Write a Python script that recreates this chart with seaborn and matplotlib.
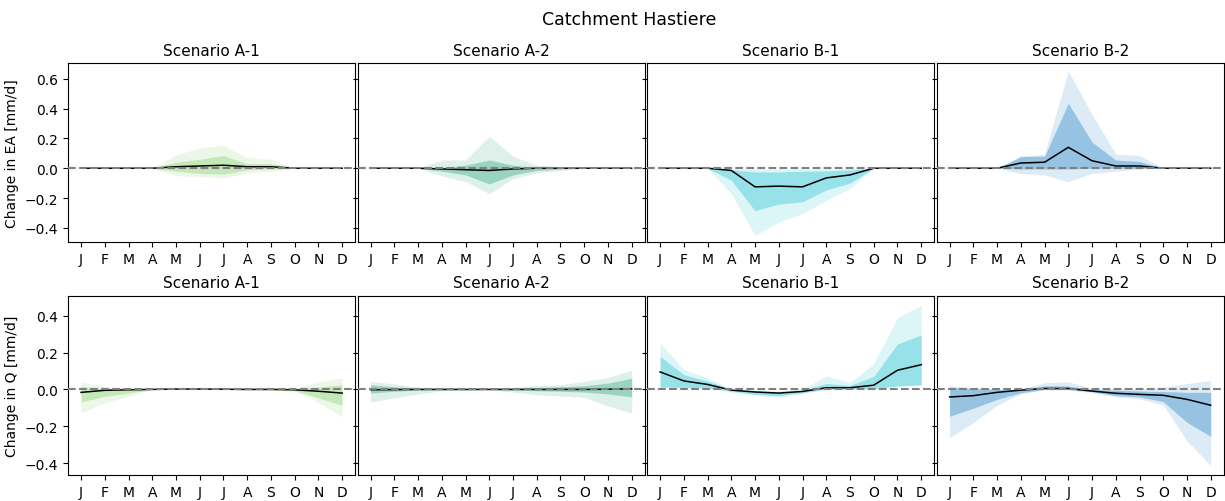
import numpy as np
import pandas as pd
import matplotlib
matplotlib.use("Agg")
import matplotlib.pyplot as plt
import seaborn as sns

months = ["J", "F", "M", "A", "M", "J", "J", "A", "S", "O", "N", "D"]
scenarios = ["Scenario A-1", "Scenario A-2", "Scenario B-1", "Scenario B-2"]
colors = ["#7ccc5f", "#1b9e77", "#17becf", "#1479bd"]

# ---- Change in EA [mm/d] ----
ea_a1_med = [0, 0, 0, 0, 0.01, 0.015, 0.02, 0.01, 0.01, 0, 0, 0]
ea_a1_in_lo = [0, 0, 0, 0, -0.02, -0.035, -0.04, -0.01, -0.005, 0, 0, 0]
ea_a1_in_hi = [0, 0, 0, 0, 0.04, 0.06, 0.085, 0.03, 0.03, 0, 0, 0]
ea_a1_out_lo = [0, 0, 0, 0, -0.05, -0.055, -0.065, -0.03, -0.02, 0, 0, 0]
ea_a1_out_hi = [0, 0, 0, 0, 0.09, 0.135, 0.155, 0.07, 0.06, 0, 0, 0]

ea_a2_med = [0, 0, 0, -0.005, -0.01, -0.015, -0.005, 0, 0, 0, 0, 0]
ea_a2_in_lo = [0, 0, 0, -0.02, -0.045, -0.105, -0.045, -0.015, -0.005, 0, 0, 0]
ea_a2_in_hi = [0, 0, 0, 0.005, 0.02, 0.055, 0.02, 0.005, 0, 0, 0, 0]
ea_a2_out_lo = [0, 0, 0, -0.05, -0.09, -0.17, -0.07, -0.03, -0.015, 0, 0, 0]
ea_a2_out_hi = [0, 0, 0, 0.055, 0.055, 0.215, 0.08, 0.02, 0.01, 0, 0, 0]

ea_b1_med = [0, 0, 0, -0.015, -0.125, -0.12, -0.125, -0.065, -0.045, 0, 0, 0]
ea_b1_in_lo = [0, 0, 0, -0.08, -0.285, -0.24, -0.225, -0.145, -0.1, 0, 0, 0]
ea_b1_in_hi = [0, 0, 0, -0.01, -0.025, -0.025, -0.02, -0.018, -0.012, 0, 0, 0]
ea_b1_out_lo = [0, 0, 0, -0.17, -0.45, -0.36, -0.305, -0.215, -0.135, 0, 0, 0]
ea_b1_out_hi = [0, 0, 0, -0.002, -0.005, -0.005, -0.005, -0.004, -0.003, 0, 0, 0]

ea_b2_med = [0, 0, 0, 0.035, 0.04, 0.14, 0.05, 0.015, 0.015, 0, 0, 0]
ea_b2_in_lo = [0, 0, 0, -0.005, -0.005, -0.005, 0, 0, 0, 0, 0, 0]
ea_b2_in_hi = [0, 0, 0, 0.08, 0.08, 0.435, 0.175, 0.055, 0.045, 0, 0, 0]
ea_b2_out_lo = [0, 0, 0, -0.035, -0.045, -0.09, -0.035, -0.02, -0.005, 0, 0, 0]
ea_b2_out_hi = [0, 0, 0, 0.075, 0.095, 0.65, 0.36, 0.095, 0.085, 0, 0, 0]

# ---- Change in Q [mm/d] ----
q_a1_med = [-0.016, -0.005, -0.002, 0, 0.002, 0.002, 0.001, 0, 0, -0.002, -0.01, -0.02]
q_a1_in_lo = [-0.068, -0.037, -0.02, 0, 0, 0, 0, -0.002, -0.002, -0.007, -0.046, -0.086]
q_a1_in_hi = [0.016, 0.004, 0.002, 0, 0.004, 0.004, 0.003, 0.002, 0.002, 0.002, 0.012, 0.025]
q_a1_out_lo = [-0.127, -0.073, -0.037, 0, -0.001, -0.001, -0.001, -0.003, -0.003, -0.01, -0.07, -0.15]
q_a1_out_hi = [0.04, 0.015, 0.007, 0.001, 0.006, 0.008, 0.006, 0.004, 0.004, 0.004, 0.04, 0.062]

q_a2_med = [-0.002, -0.001, 0, 0, 0, 0, 0, 0, 0, 0, 0.001, 0.003]
q_a2_in_lo = [-0.02, -0.01, -0.004, -0.002, -0.002, -0.001, -0.002, -0.007, -0.01, -0.014, -0.025, -0.04]
q_a2_in_hi = [0.025, 0.014, 0.007, 0.001, 0.001, 0.001, 0.004, 0.01, 0.014, 0.02, 0.034, 0.06]
q_a2_out_lo = [-0.068, -0.046, -0.025, -0.007, -0.004, -0.003, -0.014, -0.029, -0.036, -0.043, -0.09, -0.128]
q_a2_out_hi = [0.043, 0.03, 0.01, 0.002, 0.002, 0.003, 0.01, 0.02, 0.025, 0.043, 0.065, 0.104]

q_b1_med = [0.095, 0.046, 0.027, -0.004, -0.014, -0.02, -0.011, 0.009, 0.009, 0.023, 0.104, 0.134]
q_b1_in_lo = [0.0125, 0.011, 0.009, -0.009, -0.027, -0.034, -0.018, 0.002, 0.002, 0.005, 0.018, 0.025]
q_b1_in_hi = [0.179, 0.08, 0.045, 0.0, -0.008, -0.014, -0.005, 0.032, 0.021, 0.071, 0.246, 0.296]
q_b1_out_lo = [0.0125, 0.011, 0.009, -0.016, -0.03, -0.043, -0.021, 0.0, 0.0, 0.005, 0.018, 0.025]
q_b1_out_hi = [0.252, 0.107, 0.063, 0.002, -0.003, -0.008, 0.002, 0.073, 0.036, 0.14, 0.39, 0.457]

q_b2_med = [-0.041, -0.034, -0.016, -0.004, 0.005, 0.005, -0.009, -0.021, -0.027, -0.032, -0.054, -0.086]
q_b2_in_lo = [-0.146, -0.102, -0.054, -0.018, 0.0, 0.0, -0.012, -0.034, -0.041, -0.066, -0.179, -0.254]
q_b2_in_hi = [0.011, 0.004, 0.0, 0.0, 0.02, 0.018, 0.0, -0.004, -0.009, -0.012, -0.016, -0.016]
q_b2_out_lo = [-0.261, -0.18, -0.086, -0.023, -0.002, -0.003, -0.018, -0.039, -0.052, -0.084, -0.279, -0.413]
q_b2_out_hi = [0.02, 0.009, 0.002, 0.002, 0.036, 0.041, 0.005, 0.004, 0.004, 0.011, 0.032, 0.048]

ea_sets = [
    (ea_a1_med, ea_a1_in_lo, ea_a1_in_hi, ea_a1_out_lo, ea_a1_out_hi),
    (ea_a2_med, ea_a2_in_lo, ea_a2_in_hi, ea_a2_out_lo, ea_a2_out_hi),
    (ea_b1_med, ea_b1_in_lo, ea_b1_in_hi, ea_b1_out_lo, ea_b1_out_hi),
    (ea_b2_med, ea_b2_in_lo, ea_b2_in_hi, ea_b2_out_lo, ea_b2_out_hi),
]
q_sets = [
    (q_a1_med, q_a1_in_lo, q_a1_in_hi, q_a1_out_lo, q_a1_out_hi),
    (q_a2_med, q_a2_in_lo, q_a2_in_hi, q_a2_out_lo, q_a2_out_hi),
    (q_b1_med, q_b1_in_lo, q_b1_in_hi, q_b1_out_lo, q_b1_out_hi),
    (q_b2_med, q_b2_in_lo, q_b2_in_hi, q_b2_out_lo, q_b2_out_hi),
]

fig, axes = plt.subplots(2, 4, figsize=(12.25, 5.02), dpi=100, sharex=True, sharey="row")
fig.subplots_adjust(left=0.0555, right=0.999, top=0.8725, bottom=0.052, wspace=0.008, hspace=0.30)

x = np.arange(12)
for row, (sets, ylabel) in enumerate([(ea_sets, "Change in EA [mm/d]"), (q_sets, "Change in Q [mm/d]")]):
    for col, (med, in_lo, in_hi, out_lo, out_hi) in enumerate(sets):
        ax = axes[row, col]
        c = colors[col]
        df = pd.DataFrame({"month": x, "median": med})
        ax.fill_between(x, out_lo, out_hi, color=c, alpha=0.15, linewidth=0)
        ax.fill_between(x, in_lo, in_hi, color=c, alpha=0.35, linewidth=0)
        sns.lineplot(data=df, x="month", y="median", ax=ax, color="black", linewidth=1.1)
        ax.axhline(0, color="gray", linestyle="--", linewidth=1.5, zorder=5)
        ax.set_title(scenarios[col], fontsize=11)
        ax.set_xlabel("")
        ax.set_ylabel(ylabel if col == 0 else "")
        ax.set_xticks(x)
        ax.set_xticklabels(months)
        ax.tick_params(axis="x", labelbottom=True)

axes[0, 0].set_ylim(-0.495, 0.705)
axes[0, 0].set_yticks([-0.4, -0.2, 0.0, 0.2, 0.4, 0.6])
axes[1, 0].set_ylim(-0.464, 0.508)
axes[1, 0].set_yticks([-0.4, -0.2, 0.0, 0.2, 0.4])

fig.suptitle("Catchment Hastiere", fontsize=12.5, x=0.514, y=0.979)
fig.savefig("out.png", dpi=100)
